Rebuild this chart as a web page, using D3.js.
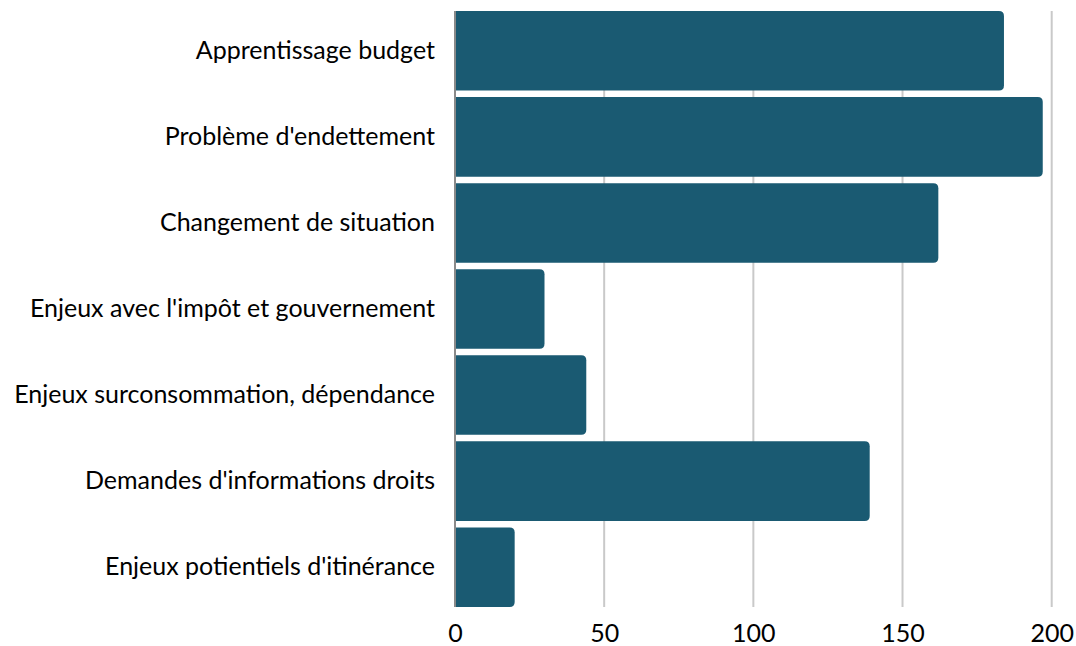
<!DOCTYPE html>
<html>
<head>
<meta charset="utf-8">
<script src="https://cdn.jsdelivr.net/npm/d3@7"></script>
<style>
  html, body { margin: 0; padding: 0; background: #ffffff; }
  svg { display: block; font-family: Lato, "Open Sans", sans-serif; }
</style>
</head>
<body>
<svg id="chart" width="1076" height="646"></svg>
<script>
// Motifs de consultation (nombre de demandes)
const categories = [
  "Apprentissage budget",
  "Problème d'endettement",
  "Changement de situation",
  "Enjeux avec l'impôt et gouvernement",
  "Enjeux surconsommation, dépendance",
  "Demandes d'informations droits",
  "Enjeux potientiels d'itinérance"
];
const values = [184, 197, 162, 30, 44, 139, 20];
const xTicks = [0, 50, 100, 150, 200];

const svg = d3.select("#chart");
const plot = { left: 455, right: 1051.7, top: 11, bottom: 607 };
const barColor = "#1a5a72";
const gridColor = "#c9c9c9";

const x = d3.scaleLinear().domain([0, 200]).range([plot.left, plot.right]);
const y = d3.scaleBand().domain(categories).range([plot.top, plot.bottom])
  .paddingInner(0.075).paddingOuter(0);

// Vertical grid lines
svg.append("g").selectAll("line")
  .data(xTicks.filter(d => d > 0))
  .join("line")
  .attr("x1", d => x(d)).attr("x2", d => x(d))
  .attr("y1", plot.top).attr("y2", plot.bottom)
  .attr("stroke", gridColor).attr("stroke-width", 2);

// Bars: square on the left, rounded on the right
const r = 5;
function barPath(x0, x1, y0, h) {
  const rr = Math.min(r, (x1 - x0) / 2, h / 2);
  return `M${x0},${y0}H${x1 - rr}Q${x1},${y0} ${x1},${y0 + rr}` +
         `V${y0 + h - rr}Q${x1},${y0 + h} ${x1 - rr},${y0 + h}H${x0}Z`;
}
svg.append("g").selectAll("path")
  .data(categories.map((c, i) => ({ c, v: values[i] })))
  .join("path")
  .attr("d", d => barPath(x(0), x(d.v), y(d.c), y.bandwidth()))
  .attr("fill", barColor);

// Baseline at zero
svg.append("line")
  .attr("x1", x(0)).attr("x2", x(0))
  .attr("y1", plot.top).attr("y2", plot.bottom)
  .attr("stroke", "#8a8a8a").attr("stroke-width", 2);

// Category labels
const yAxis = d3.axisLeft(y).tickSize(0).tickPadding(20);
const gy = svg.append("g").attr("transform", `translate(${plot.left},0)`).call(yAxis);
gy.select(".domain").remove();
gy.selectAll("text")
  .attr("font-family", "Lato, sans-serif")
  .attr("font-size", 25)
  .attr("fill", "#000");

// Value axis
const xAxis = d3.axisBottom(x).tickValues(xTicks).tickSize(0).tickPadding(17);
const gx = svg.append("g").attr("transform", `translate(0,${plot.bottom})`).call(xAxis);
gx.select(".domain").remove();
gx.selectAll("text")
  .attr("font-family", "Lato, sans-serif")
  .attr("font-size", 25)
  .attr("fill", "#000");
</script>
</body>
</html>
